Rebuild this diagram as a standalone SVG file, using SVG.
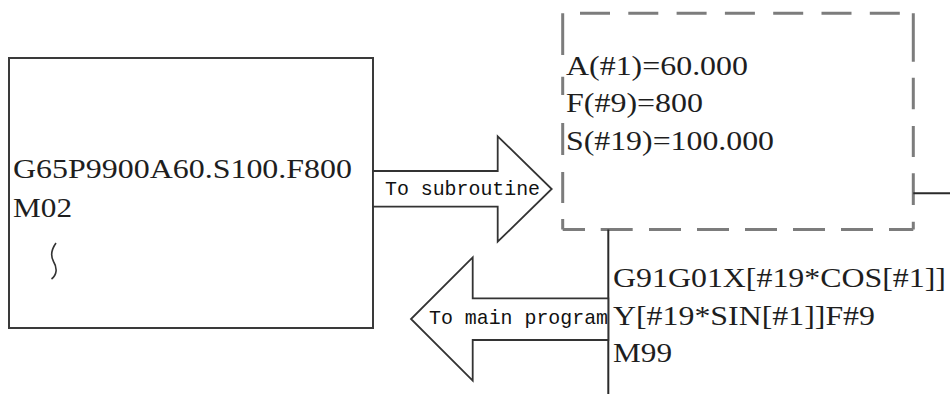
<svg xmlns="http://www.w3.org/2000/svg" width="950" height="394" viewBox="0 0 950 394">
<style>
.box{fill:#fff;stroke:#3a3a3a;stroke-width:2}
.dash{fill:none;stroke:#7c7c7c;stroke-width:3}
.code{font-family:"Liberation Serif","Times New Roman",serif;font-size:28px;fill:#1e1e1e}
.lbl{font-family:"Liberation Mono","Courier New",monospace;font-size:21px;fill:#111}
.arrow{fill:#fff;stroke:#333;stroke-width:1.8;stroke-linejoin:miter}
.line{fill:none;stroke:#2a2a2a;stroke-width:2}
</style>
<rect width="950" height="394" fill="#fff"/>
<g id="main-program">
  <rect class="box" x="9" y="58" width="364" height="270"/>
  <text class="code" x="13" y="178" textLength="339" lengthAdjust="spacingAndGlyphs">G65P9900A60.S100.F800</text>
  <text class="code" x="13" y="217" textLength="59" lengthAdjust="spacingAndGlyphs">M02</text>
  <path d="M56 243 C51 250 50.5 256 53.5 261.5 C57.5 268 57 275 51.5 279" fill="none" stroke="#333" stroke-width="1.6"/>
</g>
<g id="subroutine-arguments">
  <line class="dash" x1="580" y1="13.3" x2="913.3" y2="13.3" stroke-dasharray="30 18.3"/>
  <path class="dash" d="M913.3 13.3V61.7M913.3 77.7V109.3M913.3 126V157M913.3 173.3V205M913.3 221.7V229.5"/>
  <path class="dash" d="M562.7 229.5H585M600.7 229.5H632.7M649 229.5H681M697 229.5H729M745 229.5H777M793 229.5H825M841 229.5H873M889 229.5H913.3"/>
  <path class="dash" d="M562.7 13.3V55M562.7 76.7V95M562.7 123V155M562.7 172V203M562.7 219V229.5"/>
  <text class="code" x="566" y="75" textLength="182" lengthAdjust="spacingAndGlyphs">A(#1)=60.000</text>
  <text class="code" x="566" y="112" textLength="137" lengthAdjust="spacingAndGlyphs">F(#9)=800</text>
  <text class="code" x="566" y="149.5" textLength="208" lengthAdjust="spacingAndGlyphs">S(#19)=100.000</text>
</g>
<g id="subroutine-body">
  <text class="code" x="613" y="287" textLength="333" lengthAdjust="spacingAndGlyphs">G91G01X[#19*COS[#1]]</text>
  <text class="code" x="613" y="325" textLength="262" lengthAdjust="spacingAndGlyphs">Y[#19*SIN[#1]]F#9</text>
  <text class="code" x="613" y="362" textLength="59" lengthAdjust="spacingAndGlyphs">M99</text>
</g>
<g id="connectors">
  <line class="line" x1="608.3" y1="229.5" x2="608.3" y2="394"/>
  <line class="line" x1="913.3" y1="193.3" x2="950" y2="193.3" stroke-width="1.6"/>
  <g id="to-subroutine">
    <path class="arrow" d="M373 171 H497.7 V136.3 L551.7 189 L497.7 241.7 V206.7 H373 Z"/>
    <text class="lbl" x="385" y="195" textLength="155" lengthAdjust="spacingAndGlyphs">To subroutine</text>
  </g>
  <g id="to-main-program">
    <path class="arrow" d="M608.3 298.3 H472.7 V257.3 L411 319 L472.7 380.7 V340 H608.3 Z"/>
    <text class="lbl" x="429" y="324" textLength="179" lengthAdjust="spacingAndGlyphs">To main program</text>
  </g>
</g>
</svg>
